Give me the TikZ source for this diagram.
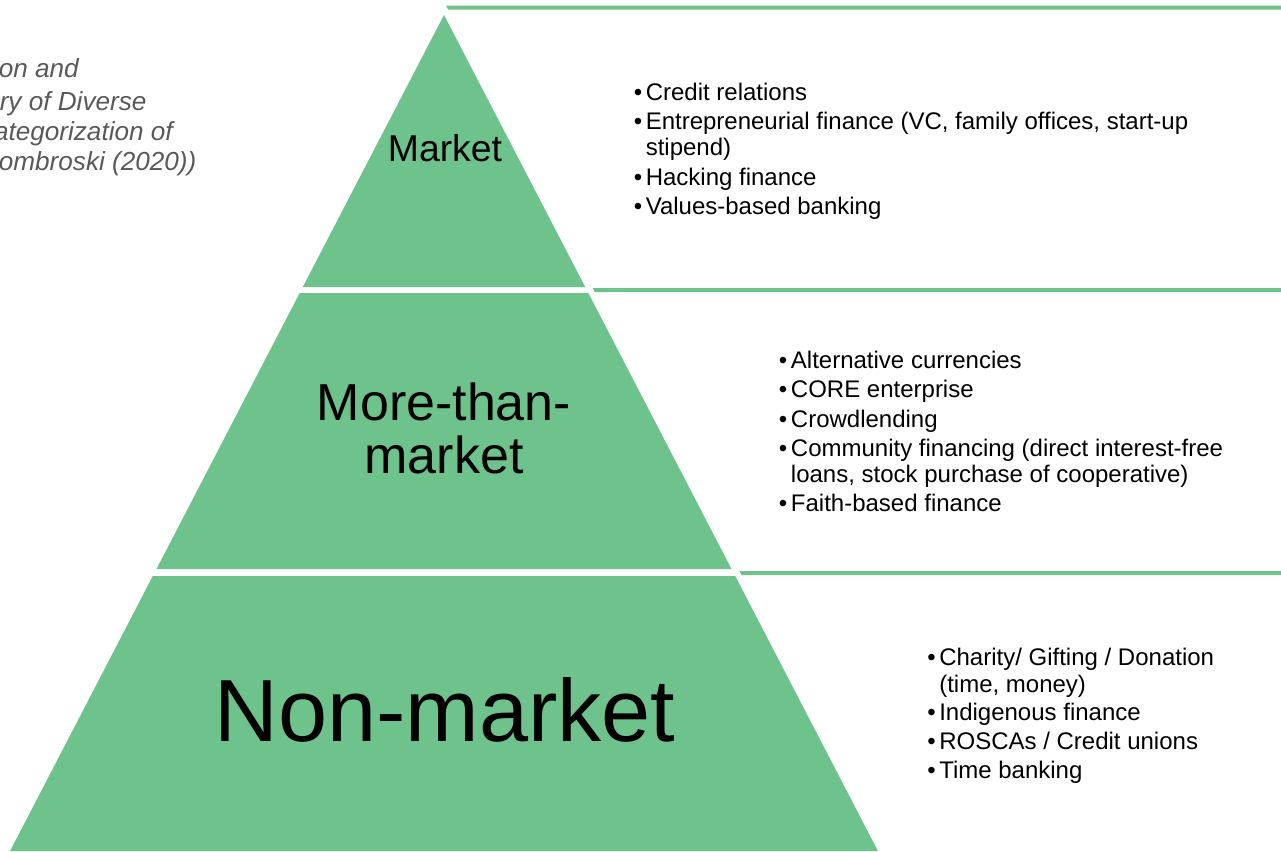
\documentclass[tikz,border=0pt]{standalone}
\usepackage{fontspec}
\setmainfont{Liberation Sans}
\definecolor{pyr}{RGB}{110,194,139}
\definecolor{capgray}{RGB}{89,89,89}
\newcommand\mybul{\llap{\makebox[9pt][l]{•}}}
\begin{document}
\begin{tikzpicture}[x=0.75pt,y=-0.75pt,
  layer/.style={fill=pyr,draw=none},
  stripe/.style={fill=pyr,draw=none},
  title/.style={inner sep=0pt,anchor=base,text=black},
  item/.style={inner sep=0pt,anchor=base west,font=\fontsize{18}{21}\selectfont},
  captext/.style={inner sep=0pt,anchor=base east,text=capgray,font=\fontsize{19.6}{22}\selectfont\itshape}]
\useasboundingbox (0,0) rectangle (1281,851);
% pyramid layers
\fill[layer] (444,15) -- (585.2,287) -- (302.8,287) -- cycle;
\fill[layer] (299.7,293) -- (588.3,293) -- (731.5,569) -- (156.5,569) -- cycle;
\fill[layer] (152.8,576) -- (735.2,576) -- (877.9,851) -- (10.1,851) -- cycle;
% stripes
\fill[stripe] (446,5.5) -- (1281,5.5) -- (1281,9.5) -- (448,9.5) -- cycle;
\fill[stripe] (592.7,288) -- (1281,288) -- (1281,292) -- (594.8,292) -- cycle;
\fill[stripe] (739.6,571) -- (1281,571) -- (1281,575) -- (741.6,575) -- cycle;
% titles
\node[title,font=\fontsize{28}{32}\selectfont] (tmarket) at (445,161) {Market};
\node[title,font=\fontsize{39}{40}\selectfont] (tmore1) at (444,420) {More-than-};
\node[title,font=\fontsize{39}{40}\selectfont] (tmore2) at (444,473) {market};
\node[title,font=\fontsize{66.2}{70}\selectfont] (tnon) at (445,741) {Non-market};
% top list
\node[item] (a1) at (645.5,100) {\mybul Credit relations};
\node[item] (a2) at (645.5,129) {\mybul Entrepreneurial finance (VC, family offices, start-up};
\node[item] (a2b) at (645.5,155) {stipend)};
\node[item] (a3) at (645.5,185) {\mybul Hacking finance};
\node[item] (a4) at (645.5,214) {\mybul Values-based banking};
% middle list
\node[item] (b1) at (790.7,368) {\mybul Alternative currencies};
\node[item] (b2) at (790.7,397) {\mybul CORE enterprise};
\node[item] (b3) at (790.7,427) {\mybul Crowdlending};
\node[item] (b4) at (790.7,456) {\mybul Community financing (direct interest-free};
\node[item] (b4b) at (790.7,482) {loans, stock purchase of cooperative)};
\node[item] (b5) at (790.7,511) {\mybul Faith-based finance};
% bottom list
\node[item] (c1) at (939,665) {\mybul Charity/ Gifting / Donation};
\node[item] (c1b) at (939,692) {(time, money)};
\node[item] (c2) at (939,720) {\mybul Indigenous finance};
\node[item] (c3) at (939,749) {\mybul ROSCAs / Credit unions};
\node[item] (c4) at (939,778) {\mybul Time banking};
% cropped caption
\node[captext] (k1) at (79,77.5) {on and};
\node[captext] (k2) at (146.7,110.5) {ry of Diverse};
\node[captext] (k3) at (173,140) {ategorization of};
\node[captext] (k4) at (196.7,170.7) {ombroski (2020))};
\end{tikzpicture}
\end{document}
